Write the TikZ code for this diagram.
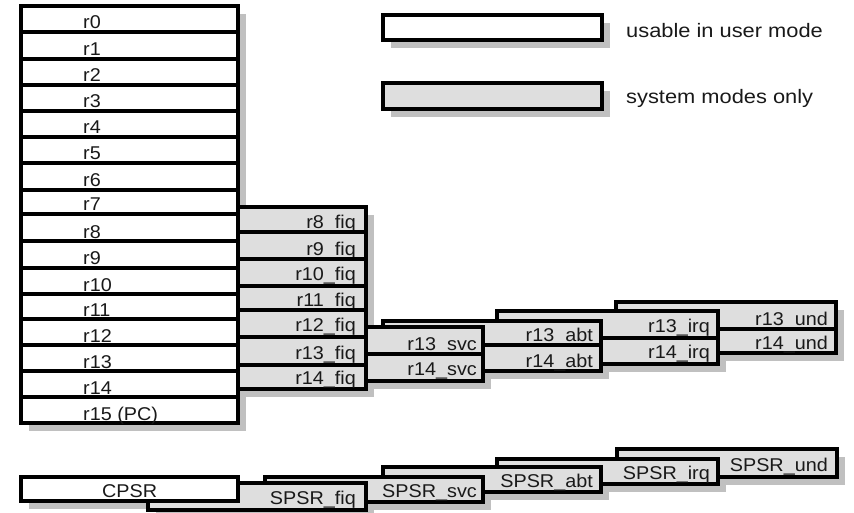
\documentclass[tikz,border=0pt]{standalone}
\usepackage{fontspec}
\setmainfont{Liberation Sans}[FakeStretch=1.07]
\newfontfamily\legendfont{Liberation Sans}[FakeStretch=1.12]
\usetikzlibrary{calc}
\definecolor{sysgray}{HTML}{DEDEDE}
\definecolor{shadowgray}{HTML}{C0C0C0}
\pgfdeclarelayer{shadowlayer}
\pgfsetlayers{shadowlayer,main}
\begin{document}
\begin{tikzpicture}[x=1pt,y=-1pt,
  cell/.style={draw=black, line width=3.2pt, inner sep=0pt, outer sep=0pt, rectangle, anchor=north west},
  usercell/.style={cell, fill=white},
  syscell/.style={cell, fill=sysgray},
  lab/.style={inner sep=0pt, text=black!90, font=\fontsize{18.5}{21}\selectfont},
  legtext/.style={inner sep=0pt, text=black!90, font=\legendfont\fontsize{19.5}{22}\selectfont},
  shadowbox/.style={fill=shadowgray}]
\useasboundingbox (0,0) rectangle (854,513);

% ---------- und bank ----------
\foreach \n/\t/\ya/\yb/\d in {u13/r13\_und/302/329/3.5, u14/r14\_und/329/353/3.5}{
  \node[syscell, minimum width=220pt, minimum height={\yb pt-\ya pt}] (\n) at (616,\ya) {};
  \node[lab, anchor=base east] (l\n) at (828,\yb-\d) {\t};
}
% ---------- irq bank ----------
\foreach \n/\t/\ya/\yb/\d in {i13/r13\_irq/311/338/5.5, i14/r14\_irq/338/364/5.5}{
  \node[syscell, minimum width=221pt, minimum height={\yb pt-\ya pt}] (\n) at (497,\ya) {};
  \node[lab, anchor=base east] (l\n) at (710,\yb-\d) {\t};
}
% ---------- abt bank ----------
\foreach \n/\t/\ya/\yb/\d in {a13/r13\_abt/321/345/3.5, a14/r14\_abt/345/371/3.5}{
  \node[syscell, minimum width=218pt, minimum height={\yb pt-\ya pt}] (\n) at (383,\ya) {};
  \node[lab, anchor=base east] (l\n) at (593,\yb-\d) {\t};
}
% ---------- svc bank ----------
\foreach \n/\t/\ya/\yb/\d in {s13/r13\_svc/327/354/3.5, s14/r14\_svc/354/381/5.5}{
  \node[syscell, minimum width=218pt, minimum height={\yb pt-\ya pt}] (\n) at (265,\ya) {};
  \node[lab, anchor=base east] (l\n) at (477,\yb-\d) {\t};
}
% ---------- fiq bank ----------
\foreach \n/\t/\ya/\yb/\d in {f8/r8\_fiq/207/232/3.5, f9/r9\_fiq/232/259/3.5, f10/r10\_fiq/259/286/5.5,
    f11/r11\_fiq/286/310/3.5, f12/r12\_fiq/310/337/5.5, f13/r13\_fiq/337/365/5.5, f14/r14\_fiq/365/389/5}{
  \node[syscell, minimum width=218pt, minimum height={\yb pt-\ya pt}] (\n) at (148,\ya) {};
  \node[lab, anchor=base east] (l\n) at (356,\yb-\d) {\t};
}
% ---------- user bank ----------
\foreach \n/\t/\ya/\yb in {r0/r0/6/32, r1/r1/32/59, r2/r2/59/85, r3/r3/85/111, r4/r4/111/137,
    r5/r5/137/163, r6/r6/163/190, r7/r7/190/214, r8/r8/214/241, r9/r9/241/268,
    r10/r10/268/294, r11/r11/294/319, r12/r12/319/345, r13/r13/345/371,
    r14/r14/371/397, r15/r15 (PC)/397/423}{
  \node[usercell, minimum width=217pt, minimum height={\yb pt-\ya pt}] (\n) at (21,\ya) {};
  \node[lab, anchor=base west] (l\n) at (83,\yb-3) {\t};
}

% ---------- program status registers ----------
\node[syscell, minimum width=220pt, minimum height=28pt] (spsrund) at (617,449) {};
\node[lab, anchor=base east] (lspsrund) at (828,471) {SPSR\_und};
\node[syscell, minimum width=221pt, minimum height=25pt] (spsrirq) at (497,459) {};
\node[lab, anchor=base east] (lspsrirq) at (710,479) {SPSR\_irq};
\node[syscell, minimum width=218pt, minimum height=25pt] (spsrabt) at (383,467) {};
\node[lab, anchor=base east] (lspsrabt) at (593,487) {SPSR\_abt};
\node[syscell, minimum width=218pt, minimum height=25pt] (spsrsvc) at (265,477) {};
\node[lab, anchor=base east] (lspsrsvc) at (477,497) {SPSR\_svc};
\node[syscell, minimum width=218pt, minimum height=27pt] (spsrfiq) at (148,483) {};
\node[lab, anchor=base east] (lspsrfiq) at (356,504) {SPSR\_fiq};
\node[usercell, minimum width=217pt, minimum height=24pt] (cpsr) at (21,477) {};
\node[lab, anchor=base west] (lcpsr) at (102,497) {CPSR};

% ---------- legend ----------
\node[usercell, minimum width=219pt, minimum height=25pt] (keyuser) at (383,15) {};
\node[legtext, anchor=base west] (lkeyuser) at (626,38) {usable in user mode};
\node[syscell, minimum width=219pt, minimum height=26pt] (keysys) at (383,83) {};
\node[legtext, anchor=base west] (lkeysys) at (626,104) {system modes only};

% ---------- shadows ----------
\begin{pgfonlayer}{shadowlayer}
  \foreach \a/\b in {r0/r15, f8/f14, s13/s14, a13/a14, i13/i14, u13/u14,
      cpsr/cpsr, spsrfiq/spsrfiq, spsrsvc/spsrsvc, spsrabt/spsrabt,
      spsrirq/spsrirq, spsrund/spsrund, keyuser/keyuser, keysys/keysys}{
    \fill[shadowbox] ($(\a.north west)+(8,8)$) rectangle ($(\b.south east)+(8,8)$);
  }
\end{pgfonlayer}
\end{tikzpicture}
\end{document}
